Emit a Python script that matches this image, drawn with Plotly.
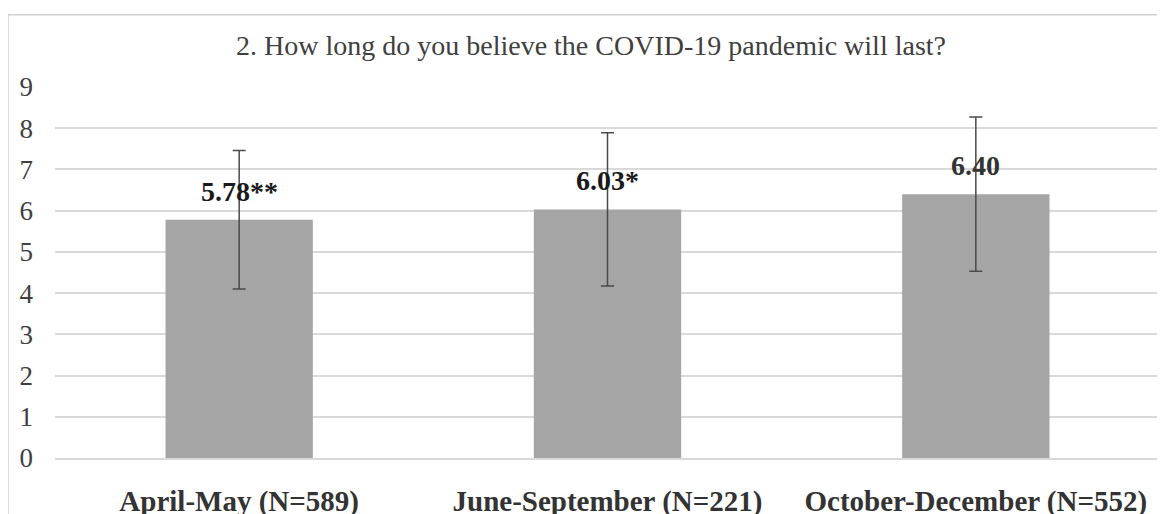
import plotly.graph_objects as go

categories = ["April-May (N=589)", "June-September (N=221)", "October-December (N=552)"]
means = [5.78, 6.03, 6.40]
errors = [1.68, 1.86, 1.87]
labels = ["5.78**", "6.03*", "6.40"]
label_colors = ["#1a1a1a", "#1a1a1a", "#333333"]
y_ticks = [0, 1, 2, 3, 4, 5, 6, 7, 8, 9]

FONT = "Liberation Serif, Times New Roman, serif"

fig = go.Figure()
fig.add_trace(go.Bar(
    x=categories,
    y=means,
    marker=dict(color="#A5A5A5", line=dict(width=0)),
    error_y=dict(type="data", array=errors, visible=True,
                 color="#4a4a4a", thickness=1.5, width=6.5),
    hoverinfo="skip",
))

for c, v, t, col in zip(categories, means, labels, label_colors):
    fig.add_annotation(x=c, y=v, text="<b>%s</b>" % t, showarrow=False,
                       yanchor="bottom", yshift=11,
                       font=dict(family=FONT, size=28, color=col))

# outer chart border (left and top edges)
fig.add_shape(type="line", xref="paper", yref="paper",
              x0=-0.0425, x1=-0.0425, y0=-0.25, y1=1.195,
              line=dict(color="#D0D0D0", width=1.5))
fig.add_shape(type="line", xref="paper", yref="paper",
              x0=-0.0425, x1=1.02, y0=1.195, y1=1.195,
              line=dict(color="#D0D0D0", width=1.5))

# page body has an 8px margin, so offsets compensate
fig.update_layout(
    width=1165, height=514,
    margin=dict(l=47, r=13, t=79, b=64),
    paper_bgcolor="white", plot_bgcolor="white",
    bargap=0.6,
    showlegend=False,
    title=dict(text="2. How long do you believe the COVID-19 pandemic will last?",
               x=583 / 1165, xref="container", xanchor="center",
               y=1 - 27 / 514, yref="container", yanchor="top",
               font=dict(family=FONT, size=28, color="#404040")),
    font=dict(family=FONT, color="#404040"),
)
fig.update_yaxes(range=[0, 9], tickvals=y_ticks, showgrid=True, automargin=False,
                 gridcolor="#D9D9D9", gridwidth=1.5, zeroline=False,
                 showline=False, ticks="", ticklabelstandoff=21,
                 tickfont=dict(family=FONT, size=27, color="#404040"))
fig.update_xaxes(showline=True, linecolor="#D9D9D9", linewidth=1.5, automargin=False,
                 ticks="", ticklabelstandoff=16,
                 tickfont=dict(family=FONT, size=29, color="#333333"),
                 tickprefix="<b>", ticksuffix="</b>")

fig.write_html("out.html")
